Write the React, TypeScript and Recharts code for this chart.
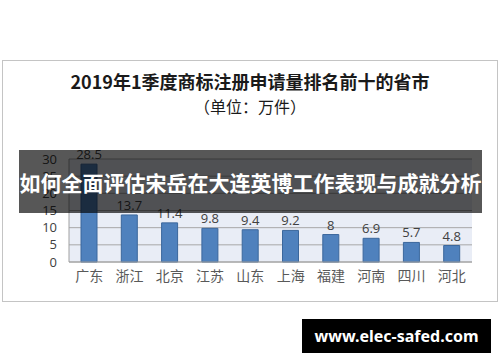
import { BarChart, Bar, XAxis, YAxis, CartesianGrid, LabelList } from 'recharts';

const provinces = ['广东', '浙江', '北京', '江苏', '山东', '上海', '福建', '河南', '四川', '河北'];
const applications = [28.5, 13.7, 11.4, 9.8, 9.4, 9.2, 8, 6.9, 5.7, 4.8];
const yTicks = [0, 5, 10, 15, 20, 25, 30];

const title = '2019年1季度商标注册申请量排名前十的省市';
const unit = '（单位：万件）';
const banner = '如何全面评估宋岳在大连英博工作表现与成就分析';
const watermark = 'www.elec-safed.com';

const cjk = '"Noto Sans CJK SC", "Noto Sans", sans-serif';

export default function App() {
  const data = provinces.map((name, i) => ({ name, value: applications[i] }));

  return (
    <div style={{ position: 'absolute', left: 0, top: 0, width: 500, height: 362, background: '#fff', overflow: 'hidden', fontFamily: cjk }}>
      {/* framed chart box */}
      <div style={{ position: 'absolute', left: 2, top: 60, width: 494, height: 240, border: '1px solid #c4c4c4', background: '#fff' }} />
      <div style={{ position: 'absolute', left: 0, width: 500, top: 70, textAlign: 'center', fontSize: 18, fontWeight: 700, color: '#1a1a1a', lineHeight: '22px' }}>
        {title}
      </div>
      <div style={{ position: 'absolute', left: 0, width: 500, top: 96, textAlign: 'center', fontSize: 16, color: '#1a1a1a', lineHeight: '20px' }}>
        {unit}
      </div>

      <div style={{ position: 'absolute', left: 0, top: 0 }}>
        <BarChart width={500} height={362} data={data} margin={{ top: 159, right: 28, bottom: 70, left: 39 }} barSize={16}>
          <CartesianGrid vertical={false} stroke="#a8a8a8" fill="#e9edf6" />
          <XAxis
            dataKey="name"
            height={30}
            axisLine={{ stroke: '#a0a0a0' }}
            tickLine={false}
            tickSize={0}
            tickMargin={9}
            interval={0}
            tick={{ fill: '#595959', fontSize: 14, fontFamily: cjk }}
          />
          <YAxis
            width={30}
            domain={[0, 30]}
            ticks={yTicks}
            interval={0}
            axisLine={{ stroke: '#a0a0a0' }}
            tickLine={false}
            tickSize={0}
            tickMargin={12}
            tick={{ fill: '#404040', fontSize: 13, fontFamily: '"Open Sans", sans-serif' }}
          />
          <Bar dataKey="value" fill="#4f81bd" stroke="#3b679c" isAnimationActive={false}>
            <LabelList dataKey="value" position="top" offset={5} fill="#404040" fontSize={13} fontFamily='"Open Sans", sans-serif' />
          </Bar>
        </BarChart>
      </div>

      {/* overlay banner */}
      <div style={{ position: 'absolute', left: 19, top: 150, width: 463, height: 63, background: 'rgba(0,0,0,0.66)', display: 'flex', alignItems: 'center', justifyContent: 'center' }}>
        <span style={{ color: '#fff', fontSize: 21, fontWeight: 700, whiteSpace: 'nowrap', fontFamily: cjk }}>{banner}</span>
      </div>

      {/* watermark */}
      <div style={{ position: 'absolute', left: 302, top: 319, width: 189, height: 34, background: '#000', display: 'flex', alignItems: 'center', justifyContent: 'center' }}>
        <span style={{ color: '#fff', fontSize: 16, fontWeight: 700, fontFamily: '"Noto Sans", sans-serif' }}>{watermark}</span>
      </div>
    </div>
  );
}
